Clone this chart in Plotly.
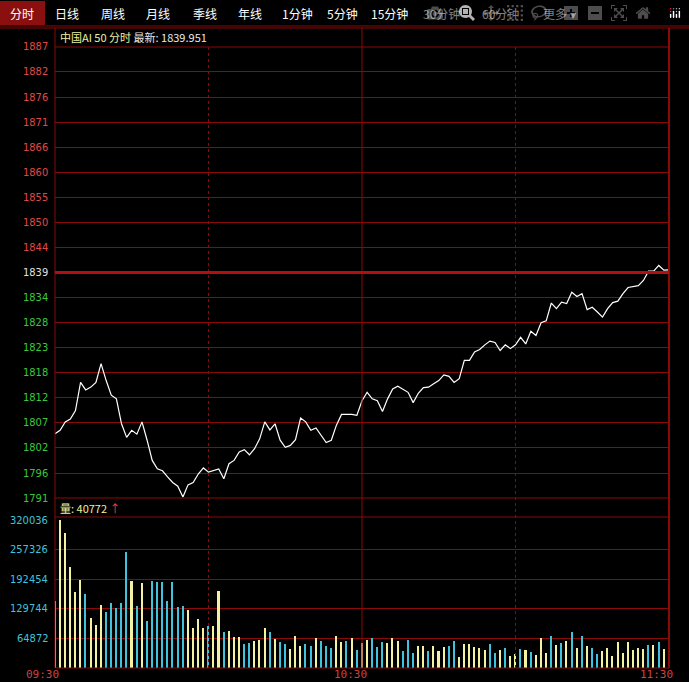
import plotly.graph_objects as go

minutes = list(range(121))
prices = [1805.1, 1805.8, 1807.6, 1808.2, 1810.0, 1816.0, 1814.4, 1815.0, 1816.0, 1820.0,
          1816.4, 1813.3, 1812.5, 1807.2, 1804.3, 1805.8, 1805.0, 1807.6, 1803.7, 1799.4,
          1797.6, 1797.2, 1795.9, 1794.7, 1793.9, 1791.6, 1794.2, 1794.7, 1796.5, 1797.8,
          1796.9, 1797.2, 1797.6, 1795.5, 1798.7, 1799.4, 1801.2, 1801.7, 1800.6, 1801.9,
          1804.0, 1807.6, 1805.9, 1807.2, 1803.7, 1802.2, 1802.6, 1803.8, 1808.4, 1807.6,
          1805.8, 1806.3, 1804.7, 1803.2, 1803.7, 1806.9, 1809.2, 1809.2, 1809.2, 1809.0,
          1812.1, 1813.9, 1812.5, 1812.1, 1809.8, 1812.5, 1814.6, 1815.2, 1814.6, 1813.9,
          1811.7, 1813.7, 1814.9, 1815.0, 1815.7, 1816.4, 1817.6, 1817.3, 1816.0, 1816.8,
          1820.7, 1820.7, 1822.5, 1823.0, 1824.0, 1824.8, 1824.5, 1822.8, 1824.0, 1823.2,
          1824.0, 1825.6, 1824.2, 1826.9, 1826.0, 1828.7, 1829.1, 1832.9, 1831.7, 1833.1,
          1832.8, 1835.2, 1834.3, 1834.9, 1831.5, 1832.0, 1831.0, 1829.9, 1831.7, 1833.0,
          1833.3, 1834.9, 1836.2, 1836.4, 1836.6, 1837.7, 1839.7, 1839.7, 1840.9, 1839.9,
          1839.95]
volumes = [144881, 320036, 292645, 219123, 165063, 190291, 160018, 108841, 92983, 136231,
           121815, 139835, 130465, 141277, 251559, 188850, 134069, 184525, 101633, 188850,
           186687, 186687, 144881, 186687, 132627, 134069, 125419, 87217, 105958, 87217,
           90821, 90821, 167226, 77846, 80009, 67755, 67755, 51898, 54781, 58385,
           60547, 87217, 77846, 62710, 56222, 51898, 41086, 69197, 48294, 51177,
           48294, 65593, 58385, 48294, 43969, 69197, 56222, 58385,
           65593, 38923, 53339, 60547, 65593, 46131, 56222, 53339, 65593, 58385,
           36761, 60547, 31715, 47573, 47573, 36761, 47573, 36761, 45410, 47573,
           58385, 23786, 51898, 51898, 45410, 43248, 38923, 51898, 31715, 38923,
           43248, 25949, 30994, 41086, 38923, 34598, 28111, 65593, 32436, 69197,
           49735, 54060, 58385, 77846, 43248, 69197, 47573, 43248, 30274, 36761,
           43248, 25949, 56222, 32436, 56222, 38923, 43248, 41086, 49735, 49735,
           56222, 41086, 40772]
vol_up = "YYYYYYCYYYCCCCCYCYCCCCCCCCYYYYCYYCYYYCCYYYCYCCYYYCCYCCCYYC" \
         "YCYYCCCYYYCCCYYCYYYCCYYYYYYCCYCYYCYCYYYCYCYCYCYCCYYYYYYYYYCYCY"
price_ticks = [1791.4, 1796.7, 1802.1, 1807.4, 1812.7, 1818.1, 1823.4, 1828.7, 1834.1, 1839.4,
               1844.7, 1850.1, 1855.4, 1860.7, 1866.1, 1871.4, 1876.7, 1882.1, 1887.4]
price_labels = ["1791", "1796", "1802", "1807", "1812", "1818", "1823", "1828", "1834", "1839",
                "1844", "1850", "1855", "1860", "1866", "1871", "1876", "1882", "1887"]
vol_ticks = [64872, 129744, 192454, 257326, 320036]
tabs = ["分时", "日线", "周线", "月线", "季线", "年线", "1分钟", "5分钟", "15分钟", "30分钟", "60分钟", "更多 ▾"]
tab_x = [22, 67, 113, 158, 205, 250, 297, 342, 389, 442, 500, 559]
time_labels = ["09:30", "10:30", "11:30"]

RED = "#8a0a0a"
W, H = 689, 682
L, R, T, B = 55, 20, 28, 14
pw, ph = W - L - R, H - T - B
def px(x): return (x - L) / pw
def py(y): return (H - B - y) / ph

fig = go.Figure()
fig.add_trace(go.Scatter(x=minutes, y=prices, mode="lines", line=dict(color="white", width=1.2),
                         xaxis="x", yaxis="y", hoverinfo="skip"))
cols = ["#f2f2a0" if c == "Y" else "#3fc3dc" for c in vol_up]
fig.add_trace(go.Bar(x=minutes, y=volumes, marker=dict(color=cols, line=dict(width=0)),
                     width=0.3, xaxis="x2", yaxis="y2", hoverinfo="skip"))

ax = dict(range=[0, 120], showticklabels=False, showgrid=False, zeroline=False, fixedrange=True)
fig.update_layout(
    width=W, height=H, margin=dict(l=L, r=R, t=T, b=B),
    paper_bgcolor="black", plot_bgcolor="black", showlegend=False, bargap=0,
    xaxis=dict(ax, domain=[0, 1], anchor="y"),
    xaxis2=dict(ax, domain=[0, 1], anchor="y2"),
    yaxis=dict(domain=[py(498), py(47)], range=[price_ticks[0], price_ticks[-1]],
               tickvals=price_ticks, showticklabels=False, showgrid=True, gridcolor=RED,
               gridwidth=1, zeroline=False),
    yaxis2=dict(domain=[0, py(520)], range=[0, vol_ticks[-1]], tickvals=vol_ticks,
                showticklabels=False, showgrid=True, gridcolor=RED, zeroline=False),
    font=dict(family="Noto Sans CJK SC", size=12, color="white"),
)

shapes = []
def line(x0, y0, x1, y1, w=1, dash="solid", c=RED):
    shapes.append(dict(type="line", xref="paper", yref="paper", x0=x0, y0=y0, x1=x1, y1=y1,
                       line=dict(color=c, width=w, dash=dash)))
shapes.append(dict(type="rect", xref="paper", yref="paper", x0=px(0), x1=px(45), y0=py(25), y1=py(1),
                   fillcolor="#8a1010", line=dict(width=0), layer="below"))
line(px(0), py(26), px(689), py(26))
line(px(0), py(28), px(689), py(28))
line(0, py(47), 1, py(47))
line(0, py(498), 1, py(498))
line(0, py(517), 1, py(517))
line(0, 0, 1, 0)
line(0, 0, 0, 1)
line(0.5, 0, 0.5, py(28))
line(1, 0, 1, py(28), w=2)
line(0.25, 0, 0.25, py(47), dash="dot")
line(0.75, 0, 0.75, py(47), dash="dot")
fig.update_layout(shapes=shapes)
fig.add_shape(type="line", xref="paper", yref="y", x0=0, x1=1, y0=1839.4, y1=1839.4,
              line=dict(color="#b01010", width=3))

ann = []
for t, x in zip(tabs, tab_x):
    ann.append(dict(x=px(x), y=py(13), xref="paper", yref="paper", text=t, showarrow=False,
                    font=dict(size=12, color="white"), xanchor="center", yanchor="middle"))
for v, lab in zip(price_ticks, price_labels):
    c = "#e04848" if v > 1840 else ("#e0e0e0" if v > 1838 else "#3cc83c")
    ann.append(dict(x=px(50), y=v, xref="paper", yref="y", text=lab, showarrow=False,
                    font=dict(size=11, color=c, family="DejaVu Sans Condensed"), xanchor="right", yanchor="middle"))
for v in vol_ticks:
    ann.append(dict(x=px(50), y=v, xref="paper", yref="y2", text=str(v), showarrow=False,
                    font=dict(size=11, color="#3fc3dc", family="DejaVu Sans Condensed"), xanchor="right", yanchor="middle"))
for lab, x in zip(time_labels, [24, 332, 638]):
    ann.append(dict(x=px(x), y=py(674), xref="paper", yref="paper", text=lab, showarrow=False,
                    font=dict(size=11, color="#d04040", family="DejaVu Sans Mono"), xanchor="left", yanchor="middle"))
ann.append(dict(x=px(58), y=py(37), xref="paper", yref="paper", showarrow=False, xanchor="left", yanchor="middle",
                text="<span style='color:#f0f0a0'>中国AI 50 分时</span> 最新: 1839.951",
                font=dict(size=11, color="#e8e8e8")))
ann.append(dict(x=px(58), y=py(508), xref="paper", yref="paper", showarrow=False, xanchor="left", yanchor="middle",
                text="<span style='color:#f0f0a0'>量: 40772</span> <span style='color:#ff4040'>↑</span>",
                font=dict(size=11, color="#f0f0a0")))
fig.update_layout(annotations=ann)
fig.write_html("out.html", post_script="document.body.style.margin='0';document.body.style.background='black';")
